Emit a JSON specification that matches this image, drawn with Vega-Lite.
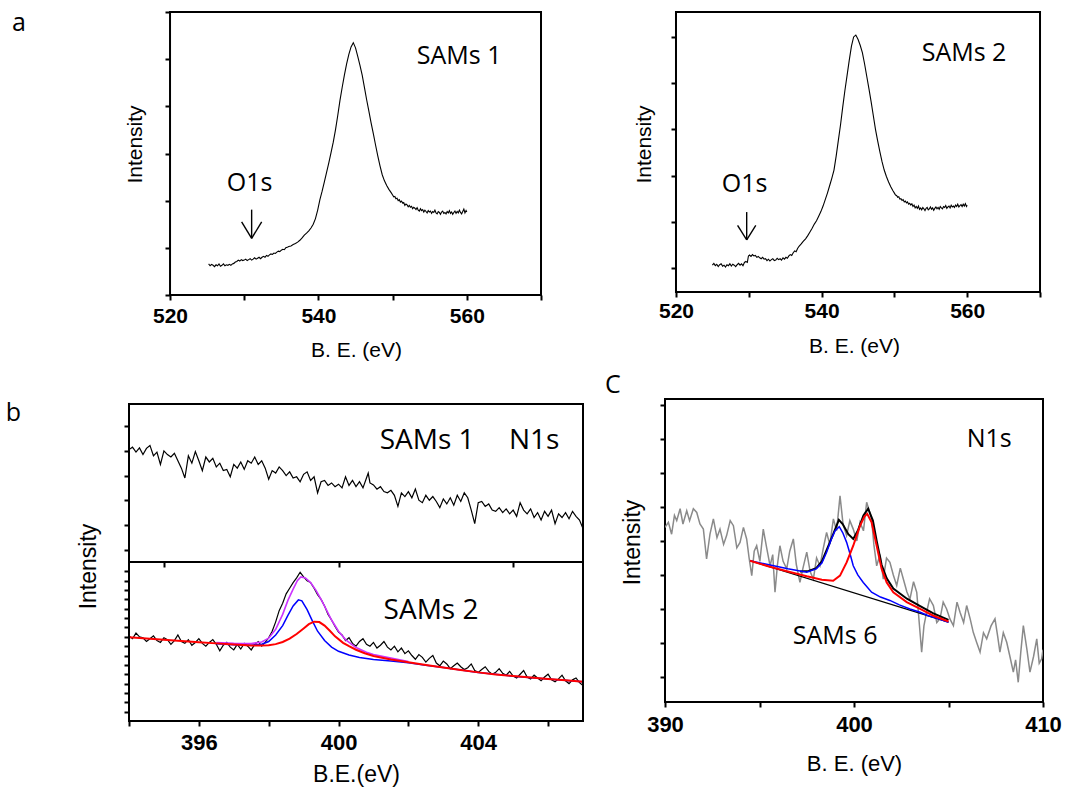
{
"$schema": "https://vega.github.io/schema/vega-lite/v6.json",
"padding": {"left": 5, "top": 10, "right": 2, "bottom": 2},
"background": "white",
"config": {
  "view": {"stroke": null},
  "axis": {"domain": false, "grid": false, "ticks": true, "tickColor": "black", "tickWidth": 2, "tickSize": 5,
    "labelFont": "Liberation Sans", "labelFontWeight": "bold", "labelColor": "black", "labelFlush": false, "labelOverlap": false, "labelBound": false,
    "titleFont": "Liberation Sans", "titleFontWeight": "normal", "titleColor": "black", "titleBaseline": "alphabetic"}
},
"datasets": {
  "a1": [{"e":525.2,"i":0.66},{"e":525.4,"i":0.62},{"e":525.6,"i":0.65},{"e":525.8,"i":0.63},{"e":526.0,"i":0.6},{"e":526.2,"i":0.64},{"e":526.4,"i":0.62},{"e":526.6,"i":0.66},{"e":526.8,"i":0.61},{"e":527.0,"i":0.63},{"e":527.2,"i":0.66},{"e":527.4,"i":0.62},{"e":527.6,"i":0.64},{"e":527.8,"i":0.63},{"e":528.0,"i":0.65},{"e":528.2,"i":0.63},{"e":528.4,"i":0.66},{"e":528.6,"i":0.67},{"e":528.8,"i":0.7},{"e":529.0,"i":0.71},{"e":529.2,"i":0.74},{"e":529.4,"i":0.72},{"e":529.6,"i":0.75},{"e":529.8,"i":0.73},{"e":530.0,"i":0.74},{"e":530.2,"i":0.76},{"e":530.4,"i":0.73},{"e":530.6,"i":0.75},{"e":530.8,"i":0.77},{"e":531.0,"i":0.74},{"e":531.2,"i":0.76},{"e":531.4,"i":0.79},{"e":531.6,"i":0.76},{"e":531.8,"i":0.78},{"e":532.0,"i":0.8},{"e":532.2,"i":0.77},{"e":532.4,"i":0.8},{"e":532.6,"i":0.82},{"e":532.8,"i":0.8},{"e":533.0,"i":0.84},{"e":533.2,"i":0.82},{"e":533.4,"i":0.85},{"e":533.6,"i":0.87},{"e":533.8,"i":0.86},{"e":534.0,"i":0.89},{"e":534.2,"i":0.88},{"e":534.4,"i":0.91},{"e":534.6,"i":0.93},{"e":534.8,"i":0.92},{"e":535.0,"i":0.95},{"e":535.2,"i":0.97},{"e":535.4,"i":0.96},{"e":535.6,"i":1.0},{"e":535.8,"i":1.01},{"e":536.0,"i":1.03},{"e":536.3,"i":1.04},{"e":536.6,"i":1.07},{"e":536.9,"i":1.09},{"e":537.2,"i":1.12},{"e":537.5,"i":1.16},{"e":537.8,"i":1.21},{"e":538.1,"i":1.27},{"e":538.4,"i":1.31},{"e":538.7,"i":1.36},{"e":539.0,"i":1.42},{"e":539.3,"i":1.5},{"e":539.6,"i":1.62},{"e":539.9,"i":1.8},{"e":540.2,"i":2.02},{"e":540.5,"i":2.2},{"e":540.8,"i":2.4},{"e":541.1,"i":2.6},{"e":541.4,"i":2.8},{"e":541.7,"i":3.02},{"e":542.0,"i":3.24},{"e":542.3,"i":3.5},{"e":542.6,"i":3.8},{"e":542.9,"i":4.12},{"e":543.2,"i":4.4},{"e":543.5,"i":4.66},{"e":543.8,"i":4.9},{"e":544.1,"i":5.1},{"e":544.4,"i":5.26},{"e":544.7,"i":5.35},{"e":545.0,"i":5.24},{"e":545.3,"i":5.06},{"e":545.6,"i":4.87},{"e":545.9,"i":4.66},{"e":546.2,"i":4.4},{"e":546.5,"i":4.14},{"e":546.8,"i":3.9},{"e":547.1,"i":3.65},{"e":547.4,"i":3.42},{"e":547.7,"i":3.18},{"e":548.0,"i":2.95},{"e":548.3,"i":2.74},{"e":548.6,"i":2.55},{"e":548.9,"i":2.42},{"e":549.2,"i":2.32},{"e":549.5,"i":2.24},{"e":549.8,"i":2.17},{"e":550.0,"i":2.12},{"e":550.15,"i":2.08},{"e":550.3,"i":2.09},{"e":550.45,"i":2.04},{"e":550.6,"i":2.05},{"e":550.75,"i":2.0},{"e":550.9,"i":2.02},{"e":551.05,"i":1.97},{"e":551.2,"i":1.99},{"e":551.35,"i":1.95},{"e":551.5,"i":1.96},{"e":551.65,"i":1.9},{"e":551.8,"i":1.93},{"e":551.95,"i":1.91},{"e":552.1,"i":1.87},{"e":552.25,"i":1.9},{"e":552.4,"i":1.86},{"e":552.55,"i":1.88},{"e":552.7,"i":1.83},{"e":552.85,"i":1.86},{"e":553.0,"i":1.84},{"e":553.15,"i":1.81},{"e":553.3,"i":1.85},{"e":553.45,"i":1.8},{"e":553.6,"i":1.78},{"e":553.75,"i":1.83},{"e":553.9,"i":1.79},{"e":554.05,"i":1.81},{"e":554.2,"i":1.76},{"e":554.35,"i":1.8},{"e":554.5,"i":1.77},{"e":554.65,"i":1.74},{"e":554.8,"i":1.79},{"e":554.95,"i":1.76},{"e":555.1,"i":1.78},{"e":555.25,"i":1.73},{"e":555.4,"i":1.77},{"e":555.55,"i":1.75},{"e":555.7,"i":1.8},{"e":555.85,"i":1.74},{"e":556.0,"i":1.72},{"e":556.15,"i":1.77},{"e":556.3,"i":1.75},{"e":556.45,"i":1.71},{"e":556.6,"i":1.76},{"e":556.75,"i":1.78},{"e":556.9,"i":1.73},{"e":557.05,"i":1.75},{"e":557.2,"i":1.72},{"e":557.35,"i":1.77},{"e":557.5,"i":1.74},{"e":557.65,"i":1.79},{"e":557.8,"i":1.73},{"e":557.95,"i":1.76},{"e":558.1,"i":1.71},{"e":558.25,"i":1.75},{"e":558.4,"i":1.78},{"e":558.55,"i":1.73},{"e":558.7,"i":1.77},{"e":558.85,"i":1.74},{"e":559.0,"i":1.8},{"e":559.15,"i":1.75},{"e":559.3,"i":1.72},{"e":559.45,"i":1.77},{"e":559.6,"i":1.82},{"e":559.75,"i":1.74},{"e":559.9,"i":1.79},{"e":560.0,"i":1.76}],
  "a1txt": [{"e":553.25,"i":4.9,"t":"SAMs 1"},{"e":527.64,"i":2.21,"t":"O1s"},{"e":498.7,"i":5.6,"t":"a"}],
  "a1arr": [{"e":531.0,"i":1.81,"e2":531.0,"i2":1.2},{"e":529.65,"i":1.55,"e2":531.0,"i2":1.2},{"e":532.35,"i":1.55,"e2":531.0,"i2":1.2}],
  "a1frameH": [{"e":520,"e2":570,"i":6},{"e":520,"e2":570,"i":0}],
  "a1frameV": [{"e":520,"i":0,"i2":6},{"e":570,"i":0,"i2":6}],
  "a2": [{"e":525.0,"i":0.06},{"e":525.2,"i":0.1},{"e":525.4,"i":0.05},{"e":525.6,"i":0.08},{"e":525.8,"i":0.03},{"e":526.0,"i":0.07},{"e":526.2,"i":0.09},{"e":526.4,"i":0.04},{"e":526.6,"i":0.06},{"e":526.8,"i":0.02},{"e":527.0,"i":0.07},{"e":527.2,"i":0.05},{"e":527.4,"i":0.09},{"e":527.6,"i":0.04},{"e":527.8,"i":0.08},{"e":528.0,"i":0.06},{"e":528.2,"i":0.03},{"e":528.4,"i":0.07},{"e":528.6,"i":0.1},{"e":528.8,"i":0.06},{"e":529.0,"i":0.09},{"e":529.2,"i":0.05},{"e":529.4,"i":0.12},{"e":529.6,"i":0.14},{"e":529.8,"i":0.12},{"e":529.95,"i":0.26},{"e":530.1,"i":0.28},{"e":530.3,"i":0.25},{"e":530.5,"i":0.29},{"e":530.7,"i":0.26},{"e":530.9,"i":0.27},{"e":531.1,"i":0.23},{"e":531.3,"i":0.25},{"e":531.5,"i":0.22},{"e":531.7,"i":0.2},{"e":531.9,"i":0.23},{"e":532.1,"i":0.19},{"e":532.3,"i":0.2},{"e":532.5,"i":0.16},{"e":532.7,"i":0.19},{"e":532.9,"i":0.15},{"e":533.1,"i":0.18},{"e":533.3,"i":0.2},{"e":533.5,"i":0.16},{"e":533.7,"i":0.17},{"e":533.9,"i":0.21},{"e":534.1,"i":0.18},{"e":534.3,"i":0.2},{"e":534.5,"i":0.17},{"e":534.7,"i":0.22},{"e":534.9,"i":0.19},{"e":535.1,"i":0.23},{"e":535.3,"i":0.21},{"e":535.5,"i":0.26},{"e":535.7,"i":0.29},{"e":535.9,"i":0.27},{"e":536.1,"i":0.33},{"e":536.3,"i":0.37},{"e":536.5,"i":0.35},{"e":536.7,"i":0.42},{"e":536.9,"i":0.47},{"e":537.2,"i":0.52},{"e":537.5,"i":0.58},{"e":537.8,"i":0.63},{"e":538.1,"i":0.7},{"e":538.4,"i":0.78},{"e":538.7,"i":0.86},{"e":539.0,"i":0.95},{"e":539.3,"i":1.02},{"e":539.6,"i":1.12},{"e":539.9,"i":1.22},{"e":540.2,"i":1.34},{"e":540.5,"i":1.48},{"e":540.8,"i":1.62},{"e":541.1,"i":1.78},{"e":541.4,"i":1.94},{"e":541.7,"i":2.12},{"e":542.0,"i":2.42},{"e":542.3,"i":2.76},{"e":542.6,"i":3.1},{"e":542.9,"i":3.48},{"e":543.2,"i":3.84},{"e":543.5,"i":4.17},{"e":543.8,"i":4.5},{"e":544.1,"i":4.8},{"e":544.4,"i":5.0},{"e":544.7,"i":5.04},{"e":545.0,"i":4.95},{"e":545.3,"i":4.82},{"e":545.6,"i":4.66},{"e":545.9,"i":4.42},{"e":546.2,"i":4.15},{"e":546.5,"i":3.88},{"e":546.8,"i":3.6},{"e":547.1,"i":3.3},{"e":547.4,"i":3.0},{"e":547.7,"i":2.75},{"e":548.0,"i":2.52},{"e":548.3,"i":2.3},{"e":548.6,"i":2.12},{"e":548.9,"i":1.98},{"e":549.2,"i":1.86},{"e":549.5,"i":1.76},{"e":549.8,"i":1.67},{"e":550.0,"i":1.62},{"e":550.15,"i":1.58},{"e":550.3,"i":1.57},{"e":550.45,"i":1.53},{"e":550.6,"i":1.54},{"e":550.75,"i":1.49},{"e":550.9,"i":1.5},{"e":551.05,"i":1.46},{"e":551.2,"i":1.48},{"e":551.35,"i":1.43},{"e":551.5,"i":1.45},{"e":551.65,"i":1.41},{"e":551.8,"i":1.43},{"e":551.95,"i":1.38},{"e":552.1,"i":1.4},{"e":552.25,"i":1.36},{"e":552.4,"i":1.39},{"e":552.55,"i":1.33},{"e":552.7,"i":1.36},{"e":552.85,"i":1.3},{"e":553.0,"i":1.33},{"e":553.15,"i":1.29},{"e":553.3,"i":1.34},{"e":553.45,"i":1.27},{"e":553.6,"i":1.3},{"e":553.75,"i":1.26},{"e":553.9,"i":1.31},{"e":554.05,"i":1.28},{"e":554.2,"i":1.24},{"e":554.35,"i":1.29},{"e":554.5,"i":1.31},{"e":554.65,"i":1.26},{"e":554.8,"i":1.28},{"e":554.95,"i":1.32},{"e":555.1,"i":1.27},{"e":555.25,"i":1.3},{"e":555.4,"i":1.25},{"e":555.55,"i":1.29},{"e":555.7,"i":1.32},{"e":555.85,"i":1.28},{"e":556.0,"i":1.31},{"e":556.15,"i":1.27},{"e":556.3,"i":1.33},{"e":556.45,"i":1.3},{"e":556.6,"i":1.28},{"e":556.75,"i":1.33},{"e":556.9,"i":1.31},{"e":557.05,"i":1.35},{"e":557.2,"i":1.29},{"e":557.35,"i":1.32},{"e":557.5,"i":1.34},{"e":557.65,"i":1.3},{"e":557.8,"i":1.36},{"e":557.95,"i":1.32},{"e":558.1,"i":1.34},{"e":558.25,"i":1.31},{"e":558.4,"i":1.36},{"e":558.55,"i":1.33},{"e":558.7,"i":1.38},{"e":558.85,"i":1.32},{"e":559.0,"i":1.35},{"e":559.15,"i":1.37},{"e":559.3,"i":1.33},{"e":559.45,"i":1.38},{"e":559.6,"i":1.34},{"e":559.75,"i":1.39},{"e":559.9,"i":1.33},{"e":560.0,"i":1.36}],
  "a2txt": [{"e":553.75,"i":4.49,"t":"SAMs 2"},{"e":526.28,"i":1.64,"t":"O1s"}],
  "a2arr": [{"e":529.71,"i":1.21,"e2":529.71,"i2":0.61},{"e":528.46,"i":0.92,"e2":529.71,"i2":0.61},{"e":530.96,"i":0.92,"e2":529.71,"i2":0.61}],
  "a2frameH": [{"e":520,"e2":570,"i":5.54},{"e":520,"e2":570,"i":-0.52}],
  "a2frameV": [{"e":520,"i":-0.52,"i2":5.54},{"e":570,"i":-0.52,"i2":5.54}],
  "b1": [{"e":394.0,"i":4.05},{"e":394.1,"i":4.15},{"e":394.2,"i":3.95},{"e":394.3,"i":4.12},{"e":394.4,"i":3.85},{"e":394.5,"i":4.1},{"e":394.6,"i":4.22},{"e":394.7,"i":3.8},{"e":394.8,"i":3.95},{"e":394.9,"i":3.45},{"e":395.0,"i":4.0},{"e":395.1,"i":3.85},{"e":395.2,"i":3.75},{"e":395.3,"i":3.9},{"e":395.4,"i":3.6},{"e":395.5,"i":3.3},{"e":395.6,"i":2.9},{"e":395.7,"i":3.8},{"e":395.8,"i":3.5},{"e":395.9,"i":3.97},{"e":396.0,"i":3.6},{"e":396.1,"i":3.2},{"e":396.2,"i":3.75},{"e":396.3,"i":3.55},{"e":396.4,"i":3.7},{"e":396.5,"i":3.35},{"e":396.6,"i":3.5},{"e":396.7,"i":3.2},{"e":396.8,"i":3.25},{"e":396.9,"i":2.95},{"e":397.0,"i":3.45},{"e":397.1,"i":3.3},{"e":397.2,"i":3.55},{"e":397.3,"i":3.25},{"e":397.4,"i":3.6},{"e":397.5,"i":3.5},{"e":397.6,"i":3.75},{"e":397.7,"i":3.45},{"e":397.8,"i":3.6},{"e":397.9,"i":3.3},{"e":398.0,"i":2.85},{"e":398.1,"i":3.2},{"e":398.2,"i":3.1},{"e":398.3,"i":3.35},{"e":398.4,"i":3.2},{"e":398.5,"i":3.0},{"e":398.6,"i":3.15},{"e":398.7,"i":2.9},{"e":398.8,"i":2.95},{"e":398.9,"i":2.75},{"e":399.0,"i":3.05},{"e":399.1,"i":3.15},{"e":399.2,"i":2.8},{"e":399.3,"i":2.95},{"e":399.4,"i":2.3},{"e":399.5,"i":2.75},{"e":399.6,"i":2.8},{"e":399.7,"i":2.6},{"e":399.8,"i":2.7},{"e":399.9,"i":2.55},{"e":400.0,"i":2.65},{"e":400.1,"i":2.5},{"e":400.2,"i":2.95},{"e":400.3,"i":2.6},{"e":400.4,"i":2.8},{"e":400.5,"i":2.55},{"e":400.6,"i":2.75},{"e":400.7,"i":2.5},{"e":400.8,"i":2.9},{"e":400.85,"i":3.1},{"e":400.9,"i":2.7},{"e":401.0,"i":2.62},{"e":401.1,"i":2.45},{"e":401.2,"i":2.55},{"e":401.3,"i":2.35},{"e":401.4,"i":2.3},{"e":401.5,"i":2.4},{"e":401.6,"i":2.2},{"e":401.7,"i":1.75},{"e":401.8,"i":2.3},{"e":401.9,"i":2.15},{"e":402.0,"i":2.35},{"e":402.1,"i":2.1},{"e":402.2,"i":2.45},{"e":402.3,"i":2.0},{"e":402.4,"i":1.9},{"e":402.5,"i":2.2},{"e":402.6,"i":2.0},{"e":402.7,"i":2.15},{"e":402.8,"i":1.95},{"e":402.9,"i":1.7},{"e":403.0,"i":2.05},{"e":403.1,"i":1.85},{"e":403.2,"i":2.1},{"e":403.3,"i":1.8},{"e":403.4,"i":2.2},{"e":403.5,"i":1.95},{"e":403.6,"i":2.3},{"e":403.7,"i":2.1},{"e":403.8,"i":1.6},{"e":403.9,"i":1.05},{"e":404.0,"i":1.9},{"e":404.1,"i":1.95},{"e":404.2,"i":1.75},{"e":404.3,"i":1.85},{"e":404.4,"i":1.6},{"e":404.5,"i":1.55},{"e":404.6,"i":1.7},{"e":404.7,"i":1.5},{"e":404.8,"i":1.65},{"e":404.9,"i":1.45},{"e":405.0,"i":1.6},{"e":405.1,"i":1.35},{"e":405.2,"i":1.9},{"e":405.3,"i":1.6},{"e":405.4,"i":1.45},{"e":405.5,"i":1.65},{"e":405.6,"i":1.3},{"e":405.7,"i":1.5},{"e":405.8,"i":1.2},{"e":405.9,"i":1.55},{"e":406.0,"i":1.35},{"e":406.1,"i":1.6},{"e":406.2,"i":1.05},{"e":406.3,"i":1.45},{"e":406.4,"i":1.3},{"e":406.5,"i":1.5},{"e":406.6,"i":1.25},{"e":406.7,"i":1.55},{"e":406.8,"i":1.35},{"e":406.9,"i":1.2},{"e":407.0,"i":0.85}],
  "b1txt": [{"e":401.18,"i":4.08,"t":"SAMs 1"},{"e":404.88,"i":4.08,"t":"N1s"}],
  "b1lab": [{"e":390.47,"i":5.22,"t":"b"}],
  "b2": [{"e":394.0,"i":8.1},{"e":394.1,"i":7.8},{"e":394.2,"i":8.4},{"e":394.3,"i":8.0},{"e":394.4,"i":7.9},{"e":394.5,"i":7.5},{"e":394.6,"i":7.8},{"e":394.7,"i":8.1},{"e":394.8,"i":7.6},{"e":394.9,"i":7.4},{"e":395.0,"i":7.9},{"e":395.1,"i":7.7},{"e":395.2,"i":7.2},{"e":395.3,"i":7.6},{"e":395.4,"i":8.2},{"e":395.5,"i":7.5},{"e":395.6,"i":7.3},{"e":395.7,"i":7.7},{"e":395.8,"i":7.1},{"e":395.9,"i":7.4},{"e":396.0,"i":7.8},{"e":396.1,"i":7.3},{"e":396.2,"i":7.0},{"e":396.3,"i":7.4},{"e":396.4,"i":7.7},{"e":396.5,"i":7.2},{"e":396.6,"i":6.5},{"e":396.7,"i":7.1},{"e":396.8,"i":7.4},{"e":396.9,"i":6.9},{"e":397.0,"i":6.6},{"e":397.1,"i":7.2},{"e":397.2,"i":6.7},{"e":397.3,"i":7.3},{"e":397.4,"i":7.0},{"e":397.5,"i":6.6},{"e":397.6,"i":7.2},{"e":397.7,"i":7.5},{"e":397.8,"i":7.0},{"e":397.9,"i":7.4},{"e":398.0,"i":7.9},{"e":398.1,"i":8.6},{"e":398.2,"i":9.6},{"e":398.3,"i":10.8},{"e":398.4,"i":11.6},{"e":398.5,"i":12.6},{"e":398.6,"i":13.2},{"e":398.7,"i":13.8},{"e":398.8,"i":14.3},{"e":398.9,"i":14.9},{"e":399.0,"i":14.4},{"e":399.1,"i":14.0},{"e":399.2,"i":13.8},{"e":399.3,"i":13.2},{"e":399.4,"i":12.5},{"e":399.5,"i":12.0},{"e":399.6,"i":11.3},{"e":399.7,"i":10.4},{"e":399.8,"i":9.8},{"e":399.9,"i":9.1},{"e":400.0,"i":8.5},{"e":400.1,"i":8.2},{"e":400.2,"i":7.6},{"e":400.3,"i":7.9},{"e":400.4,"i":7.3},{"e":400.5,"i":7.0},{"e":400.6,"i":7.5},{"e":400.7,"i":7.8},{"e":400.8,"i":7.2},{"e":400.9,"i":7.0},{"e":401.0,"i":7.4},{"e":401.1,"i":6.8},{"e":401.2,"i":7.1},{"e":401.3,"i":7.5},{"e":401.4,"i":6.9},{"e":401.5,"i":6.6},{"e":401.6,"i":7.0},{"e":401.7,"i":6.4},{"e":401.8,"i":6.8},{"e":401.9,"i":6.2},{"e":402.0,"i":6.5},{"e":402.1,"i":6.0},{"e":402.2,"i":5.6},{"e":402.3,"i":6.1},{"e":402.4,"i":5.8},{"e":402.5,"i":5.3},{"e":402.6,"i":5.7},{"e":402.7,"i":6.0},{"e":402.8,"i":5.2},{"e":402.9,"i":4.9},{"e":403.0,"i":5.4},{"e":403.1,"i":5.1},{"e":403.2,"i":4.6},{"e":403.3,"i":4.9},{"e":403.4,"i":5.2},{"e":403.5,"i":4.8},{"e":403.6,"i":4.5},{"e":403.7,"i":4.7},{"e":403.8,"i":5.1},{"e":403.9,"i":4.4},{"e":404.0,"i":4.2},{"e":404.1,"i":4.5},{"e":404.2,"i":4.8},{"e":404.3,"i":4.3},{"e":404.4,"i":4.0},{"e":404.5,"i":4.2},{"e":404.6,"i":4.6},{"e":404.7,"i":4.1},{"e":404.8,"i":3.9},{"e":404.9,"i":4.3},{"e":405.0,"i":3.8},{"e":405.1,"i":3.6},{"e":405.2,"i":4.0},{"e":405.3,"i":4.4},{"e":405.4,"i":3.7},{"e":405.5,"i":3.5},{"e":405.6,"i":3.9},{"e":405.7,"i":3.6},{"e":405.8,"i":3.3},{"e":405.9,"i":3.7},{"e":406.0,"i":4.0},{"e":406.1,"i":3.4},{"e":406.2,"i":3.2},{"e":406.3,"i":3.5},{"e":406.4,"i":3.9},{"e":406.5,"i":3.3},{"e":406.6,"i":3.0},{"e":406.7,"i":3.4},{"e":406.8,"i":3.6},{"e":406.9,"i":3.1},{"e":407.0,"i":2.8}],
  "b2red": [{"e":394.0,"i":7.96},{"e":394.5,"i":7.83},{"e":395.0,"i":7.7},{"e":395.5,"i":7.56},{"e":396.0,"i":7.42},{"e":396.5,"i":7.3},{"e":397.0,"i":7.18},{"e":397.5,"i":7.08},{"e":397.8,"i":7.07},{"e":398.0,"i":7.1},{"e":398.2,"i":7.22},{"e":398.4,"i":7.45},{"e":398.6,"i":7.8},{"e":398.8,"i":8.3},{"e":399.0,"i":8.9},{"e":399.15,"i":9.35},{"e":399.3,"i":9.62},{"e":399.45,"i":9.58},{"e":399.6,"i":9.2},{"e":399.75,"i":8.65},{"e":399.9,"i":8.05},{"e":400.13,"i":7.36},{"e":400.3,"i":7.0},{"e":400.5,"i":6.62},{"e":400.75,"i":6.25},{"e":401.0,"i":5.95},{"e":401.5,"i":5.58},{"e":402.0,"i":5.27},{"e":402.5,"i":4.98},{"e":403.0,"i":4.72},{"e":403.5,"i":4.45},{"e":404.0,"i":4.2},{"e":404.5,"i":3.98},{"e":405.0,"i":3.8},{"e":405.5,"i":3.64},{"e":406.0,"i":3.5},{"e":406.5,"i":3.35},{"e":407.0,"i":3.2}],
  "b2blue": [{"e":396.5,"i":7.25},{"e":397.0,"i":7.16},{"e":397.5,"i":7.1},{"e":397.8,"i":7.2},{"e":398.0,"i":7.5},{"e":398.2,"i":8.2},{"e":398.4,"i":9.2},{"e":398.55,"i":10.3},{"e":398.7,"i":11.3},{"e":398.85,"i":11.95},{"e":398.95,"i":11.85},{"e":399.1,"i":10.9},{"e":399.25,"i":9.7},{"e":399.4,"i":8.6},{"e":399.6,"i":7.6},{"e":399.8,"i":6.9},{"e":400.0,"i":6.45},{"e":400.3,"i":6.05},{"e":400.6,"i":5.8},{"e":401.0,"i":5.58},{"e":401.5,"i":5.42},{"e":402.0,"i":5.24},{"e":402.5,"i":4.97},{"e":403.0,"i":4.71},{"e":404.0,"i":4.19},{"e":405.0,"i":3.79},{"e":406.0,"i":3.49},{"e":407.0,"i":3.19}],
  "b2mag": [{"e":396.5,"i":7.4},{"e":397.0,"i":7.3},{"e":397.5,"i":7.28},{"e":397.8,"i":7.45},{"e":398.0,"i":7.85},{"e":398.2,"i":8.8},{"e":398.4,"i":10.4},{"e":398.55,"i":11.9},{"e":398.7,"i":13.1},{"e":398.82,"i":14.0},{"e":398.92,"i":14.4},{"e":399.05,"i":14.3},{"e":399.2,"i":13.8},{"e":399.35,"i":13.0},{"e":399.5,"i":12.0},{"e":399.65,"i":10.9},{"e":399.8,"i":9.8},{"e":400.0,"i":8.6},{"e":400.2,"i":7.7},{"e":400.5,"i":6.85},{"e":400.8,"i":6.35},{"e":401.0,"i":6.1},{"e":401.5,"i":5.72},{"e":402.0,"i":5.35}],
  "b2txt": [{"e":401.29,"i":9.9,"t":"SAMs 2"}],
  "bframeH": [{"e":394,"e2":407,"i":32.89},{"e":394,"e2":407,"i":16},{"e":394,"e2":407,"i":-1}],
  "bframeV": [{"e":394,"i":-1,"i2":32.89},{"e":407,"i":-1,"i2":32.89}],
  "c": [{"e":390.0,"i":4.4},{"e":390.18,"i":4.55},{"e":390.35,"i":4.2},{"e":390.5,"i":4.75},{"e":390.62,"i":4.6},{"e":390.8,"i":4.95},{"e":390.95,"i":4.5},{"e":391.15,"i":4.89},{"e":391.3,"i":4.6},{"e":391.5,"i":4.95},{"e":391.68,"i":4.84},{"e":391.85,"i":4.5},{"e":392.03,"i":4.35},{"e":392.2,"i":3.47},{"e":392.38,"i":4.2},{"e":392.56,"i":4.65},{"e":392.75,"i":4.1},{"e":392.91,"i":4.35},{"e":393.1,"i":3.9},{"e":393.26,"i":4.16},{"e":393.45,"i":4.6},{"e":393.62,"i":4.45},{"e":393.8,"i":3.8},{"e":393.97,"i":3.96},{"e":394.15,"i":4.4},{"e":394.32,"i":4.06},{"e":394.45,"i":3.5},{"e":394.59,"i":2.98},{"e":394.72,"i":3.7},{"e":394.85,"i":3.86},{"e":395.02,"i":3.4},{"e":395.2,"i":4.35},{"e":395.38,"i":3.8},{"e":395.56,"i":3.27},{"e":395.7,"i":3.6},{"e":395.82,"i":2.49},{"e":395.95,"i":3.3},{"e":396.08,"i":3.86},{"e":396.25,"i":3.4},{"e":396.44,"i":3.18},{"e":396.6,"i":3.7},{"e":396.79,"i":4.06},{"e":396.95,"i":3.3},{"e":397.14,"i":2.78},{"e":397.3,"i":3.2},{"e":397.5,"i":3.67},{"e":397.68,"i":3.1},{"e":397.85,"i":2.88},{"e":398.02,"i":3.5},{"e":398.2,"i":3.27},{"e":398.38,"i":3.8},{"e":398.55,"i":4.25},{"e":398.72,"i":3.9},{"e":398.91,"i":4.65},{"e":399.08,"i":4.3},{"e":399.26,"i":5.33},{"e":399.42,"i":4.5},{"e":399.61,"i":4.16},{"e":399.78,"i":4.6},{"e":399.96,"i":4.35},{"e":400.15,"i":4.0},{"e":400.32,"i":4.55},{"e":400.5,"i":4.3},{"e":400.67,"i":5.14},{"e":400.8,"i":4.9},{"e":400.93,"i":4.65},{"e":401.05,"i":3.9},{"e":401.2,"i":3.27},{"e":401.38,"i":3.6},{"e":401.55,"i":2.88},{"e":401.72,"i":3.5},{"e":401.9,"i":3.37},{"e":402.08,"i":3.0},{"e":402.26,"i":2.69},{"e":402.45,"i":3.2},{"e":402.61,"i":2.88},{"e":402.8,"i":2.5},{"e":402.96,"i":2.29},{"e":403.15,"i":2.8},{"e":403.32,"i":2.49},{"e":403.45,"i":1.6},{"e":403.58,"i":0.73},{"e":403.7,"i":1.5},{"e":403.84,"i":1.9},{"e":404.0,"i":2.3},{"e":404.2,"i":2.1},{"e":404.38,"i":1.6},{"e":404.55,"i":1.71},{"e":404.72,"i":2.2},{"e":404.9,"i":2.0},{"e":405.08,"i":1.7},{"e":405.26,"i":1.51},{"e":405.45,"i":2.2},{"e":405.61,"i":1.9},{"e":405.8,"i":1.6},{"e":405.96,"i":2.1},{"e":406.15,"i":1.7},{"e":406.31,"i":1.31},{"e":406.5,"i":1.0},{"e":406.67,"i":0.73},{"e":406.85,"i":1.3},{"e":407.02,"i":1.12},{"e":407.25,"i":1.5},{"e":407.46,"i":1.71},{"e":407.6,"i":1.2},{"e":407.72,"i":0.73},{"e":407.9,"i":1.3},{"e":408.08,"i":1.02},{"e":408.25,"i":0.6},{"e":408.43,"i":0.14},{"e":408.55,"i":0.5},{"e":408.69,"i":-0.16},{"e":408.82,"i":0.7},{"e":408.96,"i":1.51},{"e":409.15,"i":0.8},{"e":409.31,"i":0.14},{"e":409.5,"i":0.6},{"e":409.67,"i":1.12},{"e":409.8,"i":0.4},{"e":409.93,"i":0.53},{"e":410.0,"i":0.8}],
  "cbase": [{"e":394.5,"i":3.42},{"e":405.0,"i":1.61}],
  "cenv": [{"e":397.14,"i":3.1},{"e":397.6,"i":3.12},{"e":398.0,"i":3.2},{"e":398.3,"i":3.4},{"e":398.6,"i":3.8},{"e":398.9,"i":4.2},{"e":399.2,"i":4.62},{"e":399.4,"i":4.5},{"e":399.7,"i":4.2},{"e":399.96,"i":4.06},{"e":400.2,"i":4.3},{"e":400.5,"i":4.75},{"e":400.75,"i":4.95},{"e":401.0,"i":4.6},{"e":401.2,"i":4.0},{"e":401.46,"i":3.3},{"e":401.73,"i":2.9},{"e":402.08,"i":2.6},{"e":402.8,"i":2.3},{"e":403.5,"i":2.08},{"e":404.2,"i":1.87},{"e":405.0,"i":1.68}],
  "cblue": [{"e":394.5,"i":3.42},{"e":395.5,"i":3.3},{"e":396.5,"i":3.18},{"e":397.5,"i":3.08},{"e":398.0,"i":3.18},{"e":398.3,"i":3.35},{"e":398.55,"i":3.67},{"e":398.8,"i":4.05},{"e":399.0,"i":4.3},{"e":399.22,"i":4.42},{"e":399.4,"i":4.25},{"e":399.61,"i":3.96},{"e":399.8,"i":3.6},{"e":399.96,"i":3.27},{"e":400.2,"i":3.0},{"e":400.49,"i":2.78},{"e":400.93,"i":2.49},{"e":401.4,"i":2.35},{"e":401.9,"i":2.25},{"e":402.4,"i":2.12},{"e":402.96,"i":2.0},{"e":403.5,"i":1.9},{"e":403.93,"i":1.8},{"e":404.5,"i":1.7},{"e":405.0,"i":1.61}],
  "cred": [{"e":394.5,"i":3.42},{"e":395.5,"i":3.25},{"e":396.5,"i":3.1},{"e":397.5,"i":2.96},{"e":398.3,"i":2.86},{"e":398.9,"i":2.83},{"e":399.26,"i":2.98},{"e":399.61,"i":3.37},{"e":399.96,"i":3.86},{"e":400.32,"i":4.45},{"e":400.55,"i":4.72},{"e":400.7,"i":4.8},{"e":400.93,"i":4.55},{"e":401.2,"i":3.86},{"e":401.46,"i":3.18},{"e":401.73,"i":2.78},{"e":402.08,"i":2.49},{"e":402.79,"i":2.2},{"e":403.5,"i":2.0},{"e":404.2,"i":1.8},{"e":405.0,"i":1.63}],
  "ctxt": [{"e":405.96,"i":6.76,"t":"N1s"},{"e":396.76,"i":0.97,"t":"SAMs 6"},{"e":386.83,"i":8.36,"t":"C"}]
},
"columns": 2,
"align": "each",
"bounds": "flush",
"spacing": {"row": 104, "column": 82},
"concat": [
  {"width": 454, "height": 283,
   "encoding": {
     "x": {"field": "e", "type": "quantitative", "scale": {"domain": [514.47, 575.66], "nice": false, "zero": false},
           "axis": {"values": [520, 530, 540, 550, 560, 570], "labelExpr": "datum.value % 20 == 0 ? datum.label : ''", "labelFontSize": 21, "labelPadding": 5, "title": "B. E. (eV)", "titleFontSize": 21, "titleY": 61}},
     "y": {"field": "i", "type": "quantitative", "scale": {"domain": [0, 6], "nice": false, "zero": false},
           "axis": {"offset": -41, "values": [0, 1, 2, 3, 4, 5, 6], "labels": false, "title": "Intensity", "titleFontSize": 21, "titleX": -29, "titleY": 132}}
   },
   "layer": [
     {"data": {"name": "a1"}, "mark": {"type": "line", "color": "black", "strokeWidth": 1.1}, "encoding": {}},
     {"data": {"name": "a1arr"}, "mark": {"type": "rule", "color": "black", "strokeWidth": 1.4}, "encoding": {"x2": {"field": "e2"}, "y2": {"field": "i2"}}},
     {"data": {"name": "a1txt"}, "mark": {"type": "text", "font": "Open Sans", "fontSize": 25, "align": "left", "baseline": "alphabetic", "color": "black"}, "encoding": {"text": {"field": "t"}}},
     {"data": {"name": "a1frameH"}, "mark": {"type": "rule", "color": "black", "strokeWidth": 2, "strokeCap": "square"}, "encoding": {"x2": {"field": "e2"}}},
     {"data": {"name": "a1frameV"}, "mark": {"type": "rule", "color": "black", "strokeWidth": 2, "strokeCap": "square"}, "encoding": {"y2": {"field": "i2"}}}
   ]},
  {"width": 378, "height": 280,
   "encoding": {
     "x": {"field": "e", "type": "quantitative", "scale": {"domain": [518.49, 570.41], "nice": false, "zero": false},
           "axis": {"values": [520, 530, 540, 550, 560, 570], "labelExpr": "datum.value % 20 == 0 ? datum.label : ''", "labelFontSize": 21, "labelPadding": 3, "title": "B. E. (eV)", "titleFontSize": 21, "titleY": 60}},
     "y": {"field": "i", "type": "quantitative", "scale": {"domain": [-0.52, 5.54], "nice": false, "zero": false},
           "axis": {"offset": -11, "values": [0, 1, 2, 3, 4, 5], "labels": false, "title": "Intensity", "titleFontSize": 21, "titleX": -26, "titleY": 132}}
   },
   "layer": [
     {"data": {"name": "a2"}, "mark": {"type": "line", "color": "black", "strokeWidth": 1.1}, "encoding": {}},
     {"data": {"name": "a2arr"}, "mark": {"type": "rule", "color": "black", "strokeWidth": 1.4}, "encoding": {"x2": {"field": "e2"}, "y2": {"field": "i2"}}},
     {"data": {"name": "a2txt"}, "mark": {"type": "text", "font": "Open Sans", "fontSize": 25, "align": "left", "baseline": "alphabetic", "color": "black"}, "encoding": {"text": {"field": "t"}}},
     {"data": {"name": "a2frameH"}, "mark": {"type": "rule", "color": "black", "strokeWidth": 2, "strokeCap": "square"}, "encoding": {"x2": {"field": "e2"}}},
     {"data": {"name": "a2frameV"}, "mark": {"type": "rule", "color": "black", "strokeWidth": 2, "strokeCap": "square"}, "encoding": {"y2": {"field": "i2"}}}
   ]},
  {"width": 454, "height": 322,
   "resolve": {"scale": {"x": "independent", "y": "independent"}, "axis": {"x": "independent", "y": "independent"}},
   "layer": [
     {"encoding": {
        "x": {"field": "e", "type": "quantitative", "scale": {"domain": [394, 407], "nice": false, "zero": false},
              "axis": {"orient": "bottom", "offset": -159, "values": [395, 400, 405], "labels": false, "title": null}},
        "y": {"field": "i", "type": "quantitative", "scale": {"domain": [-6.94, 6.10], "nice": false, "zero": false},
              "axis": {"orient": "left", "values": [0, 1, 2, 3, 4, 5], "labels": false, "title": "Intensity", "titleFontSize": 23, "titleX": -34, "titleY": 167}}
      },
      "layer": [
        {"data": {"name": "b1"}, "mark": {"type": "line", "color": "black", "strokeWidth": 1.2, "clip": true}, "encoding": {}},
        {"data": {"name": "b1txt"}, "mark": {"type": "text", "font": "Open Sans", "fontSize": 28, "align": "left", "baseline": "alphabetic", "color": "black"}, "encoding": {"text": {"field": "t"}}},
        {"data": {"name": "b1lab"}, "mark": {"type": "text", "font": "Open Sans", "fontSize": 25, "align": "left", "baseline": "alphabetic", "color": "black"}, "encoding": {"text": {"field": "t"}}}
      ]},
     {"encoding": {
        "x": {"field": "e", "type": "quantitative", "scale": {"domain": [394, 407], "nice": false, "zero": false},
              "axis": {"orient": "bottom", "values": [394, 396, 398, 400, 402, 404, 406], "labelExpr": "datum.value % 4 == 0 ? datum.label : ''", "labelFontSize": 22, "labelPadding": 6, "title": "B.E.(eV)", "titleFontSize": 23, "titleY": 60}},
        "y": {"field": "i", "type": "quantitative", "scale": {"domain": [-1, 33.43], "nice": false, "zero": false},
              "axis": {"orient": "left", "values": [0, 1, 2, 3, 4, 5, 6, 7, 8, 9, 10, 11, 12, 13, 14, 15], "labels": false, "title": null}}
      },
      "layer": [
        {"data": {"name": "b2"}, "mark": {"type": "line", "color": "black", "strokeWidth": 1.2, "clip": true}, "encoding": {}},
        {"data": {"name": "b2blue"}, "mark": {"type": "line", "color": "#0000ff", "strokeWidth": 1.5, "clip": true}, "encoding": {}},
        {"data": {"name": "b2mag"}, "mark": {"type": "line", "color": "#cc33ff", "strokeWidth": 1.6, "clip": true}, "encoding": {}},
        {"data": {"name": "b2red"}, "mark": {"type": "line", "color": "#ff0000", "strokeWidth": 2, "clip": true}, "encoding": {}},
        {"data": {"name": "b2txt"}, "mark": {"type": "text", "font": "Open Sans", "fontSize": 28, "align": "left", "baseline": "alphabetic", "color": "black"}, "encoding": {"text": {"field": "t"}}},
        {"data": {"name": "bframeH"}, "mark": {"type": "rule", "color": "black", "strokeWidth": 2, "strokeCap": "square"}, "encoding": {"x2": {"field": "e2"}}},
        {"data": {"name": "bframeV"}, "mark": {"type": "rule", "color": "black", "strokeWidth": 2, "strokeCap": "square"}, "encoding": {"y2": {"field": "i2"}}}
      ]}
   ]},
  {"width": 378, "height": 303,
   "view": {"stroke": "black", "strokeWidth": 2},
   "encoding": {
     "x": {"field": "e", "type": "quantitative", "scale": {"domain": [390, 410], "nice": false, "zero": false},
           "axis": {"values": [390, 395, 400, 405, 410], "labelExpr": "datum.value % 10 == 0 ? datum.label : ''", "labelFontSize": 22, "labelPadding": 7, "title": "B. E. (eV)", "titleFontSize": 22, "titleY": 68}},
     "y": {"field": "i", "type": "quantitative", "scale": {"domain": [-0.74, 8.18], "nice": false, "zero": false},
           "axis": {"values": [0, 1, 2, 3, 4, 5, 6, 7, 8], "labels": false, "title": "Intensity", "titleFontSize": 23, "titleX": -26, "titleY": 143}}
   },
   "layer": [
     {"data": {"name": "c"}, "mark": {"type": "line", "color": "#8a8a8a", "strokeWidth": 1.5, "clip": true}, "encoding": {}},
     {"data": {"name": "cbase"}, "mark": {"type": "line", "color": "black", "strokeWidth": 1.2, "clip": true}, "encoding": {}},
     {"data": {"name": "cenv"}, "mark": {"type": "line", "color": "black", "strokeWidth": 2, "clip": true}, "encoding": {}},
     {"data": {"name": "cblue"}, "mark": {"type": "line", "color": "#0000ff", "strokeWidth": 1.5, "clip": true}, "encoding": {}},
     {"data": {"name": "cred"}, "mark": {"type": "line", "color": "#ff0000", "strokeWidth": 2, "clip": true}, "encoding": {}},
     {"data": {"name": "ctxt"}, "mark": {"type": "text", "font": "Open Sans", "fontSize": 25, "align": "left", "baseline": "alphabetic", "color": "black"}, "encoding": {"text": {"field": "t"}}}
   ]}
]
}
